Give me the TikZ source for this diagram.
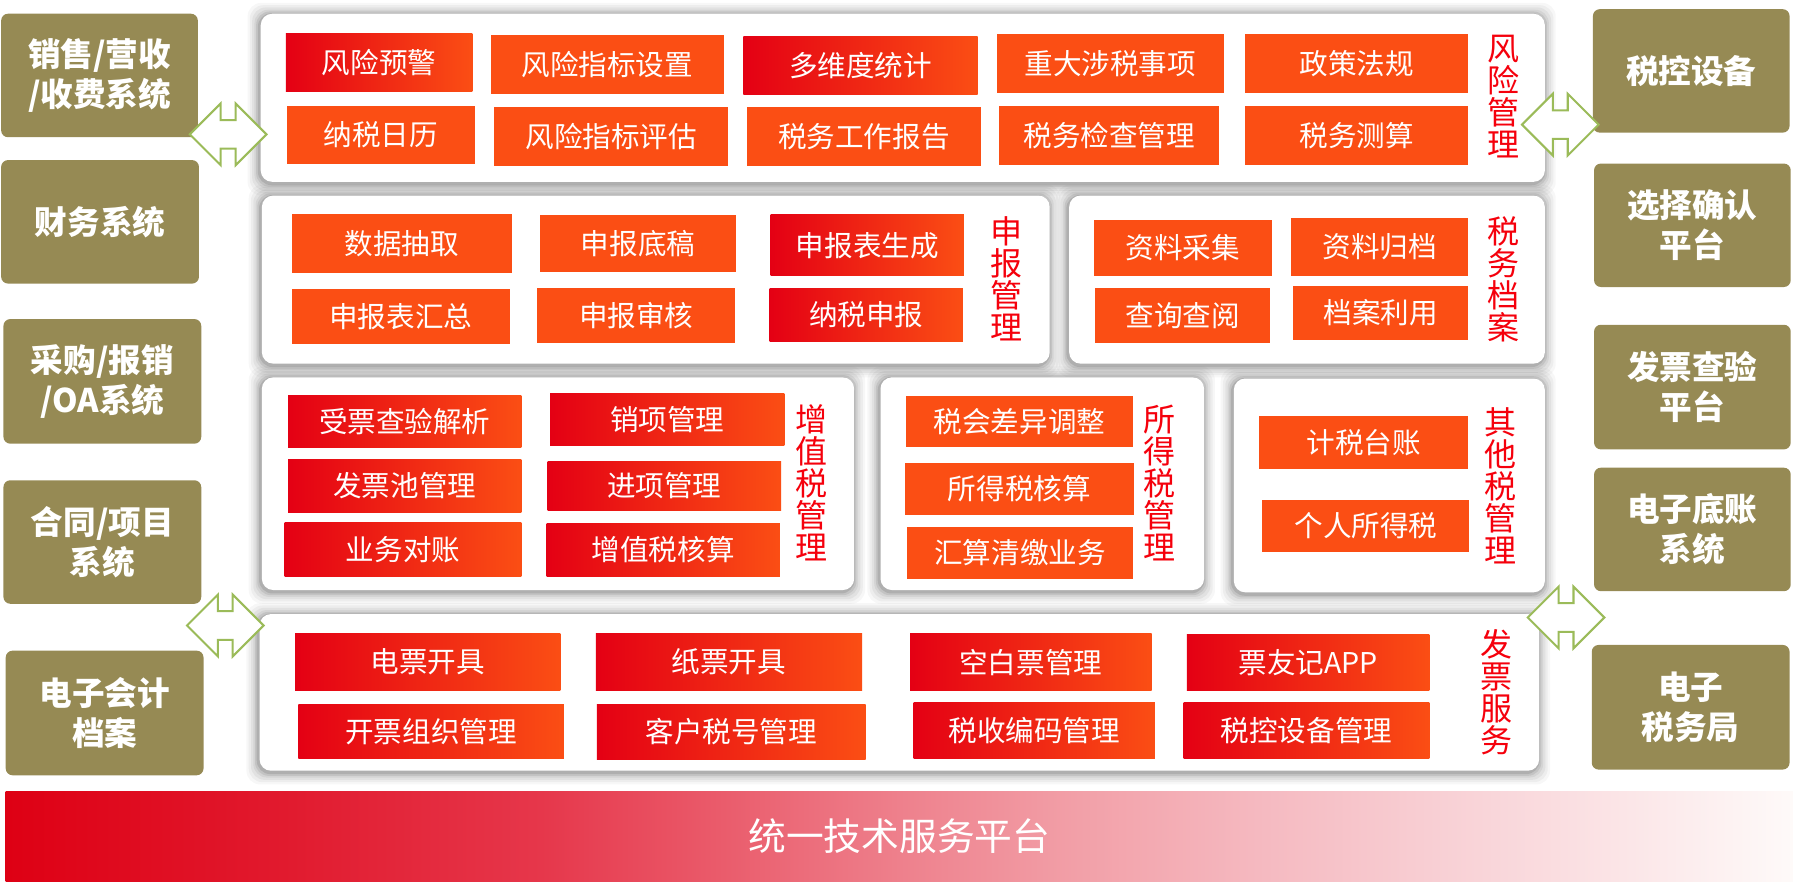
\documentclass[tikz,border=0pt]{standalone}
\usepackage{fontspec}
\setmainfont{Noto Sans CJK SC}
\definecolor{olivebg}{RGB}{150,138,84}
\definecolor{org}{RGB}{251,78,20}
\definecolor{gred}{RGB}{228,0,20}
\definecolor{lblred}{RGB}{245,0,12}
\definecolor{arrgreen}{RGB}{155,187,89}
\pgfdeclarehorizontalshading{barshade}{100bp}{rgb(0bp)=(0.871,0,0.078); rgb(25bp)=(0.871,0,0.078); rgb(32.5bp)=(0.882,0.098,0.176); rgb(40bp)=(0.902,0.216,0.294); rgb(50bp)=(0.933,0.502,0.549); rgb(55bp)=(0.949,0.627,0.659); rgb(60bp)=(0.961,0.725,0.753); rgb(65bp)=(0.973,0.812,0.831); rgb(70bp)=(0.984,0.894,0.902); rgb(75bp)=(0.996,0.98,0.976); rgb(100bp)=(0.996,0.98,0.976)}
\newcommand{\fitem}{\fontsize{25}{28}\selectfont}
\newcommand{\folive}{\bfseries\fontsize{28.5}{35}\selectfont}
\newcommand{\flbl}{\fontsize{28}{28}\selectfont}
\newcommand{\fbar}{\fontsize{33}{36}\selectfont}
\tikzset{
  solidbox/.style={fill=org, text=white, inner sep=0pt, outer sep=0pt, font=\fitem},
  gradbox/.style={left color=gred, right color=org, text=white, inner sep=0pt, outer sep=0pt, font=\fitem},
  olivebox/.style={fill=olivebg, rounded corners=6pt, text=white, align=center, font=\folive, inner sep=0pt, outer sep=0pt},
  panelbox/.style={fill=white, rounded corners=10pt, inner sep=0pt, outer sep=0pt},
  lbl/.style={text=lblred, align=center, font=\flbl, inner sep=0pt},
  dblarrow/.style={draw=arrgreen, fill=white, line width=1.8pt, line join=miter},
  dbl/.pic={\draw[dblarrow] (-33.5,0) -- (-6.5,-27) -- (-6.5,-12.5) -- (6.5,-12.5) -- (6.5,-27) -- (33.5,0) -- (6.5,27) -- (6.5,12.5) -- (-6.5,12.5) -- (-6.5,27) -- cycle;}
}
\newcommand{\mybox}[7]{\node[#6, minimum width={(#4)-(#2)}, minimum height={(#5)-(#3)}] (#1) at ({((#2)+(#4))/2},{((#3)+(#5))/2}) {#7};}
\begin{document}
\begin{tikzpicture}[x=1pt,y=-1pt]
\useasboundingbox (0,0) rectangle (1568,771.33);
% panel shadows
\foreach \xa/\ya/\xb/\yb in {228/12/1351/159, 229/171/918/318, 935/171/1351/318, 229/330/747/516, 770/330/1053/516, 1079/331/1351/518, 227/537/1346/674}{
  \foreach \e/\o in {10/0.03,8/0.04,6/0.05,4/0.06,2.5/0.08,1/0.1}{
    \fill[black,opacity=\o,rounded corners=12pt] ({\xa-\e-1.5},{\ya-\e+0.5}) rectangle ({\xb+\e-0.5},{\yb+\e+2});
  }
}
% panels
\mybox{p1}{228}{12}{1351}{159}{panelbox}{}
\mybox{p2}{229}{171}{918}{318}{panelbox}{}
\mybox{p3}{935}{171}{1351}{318}{panelbox}{}
\mybox{p4}{229}{330}{747}{516}{panelbox}{}
\mybox{p5}{770}{330}{1053}{516}{panelbox}{}
\mybox{p6}{1079}{331}{1351}{518}{panelbox}{}
\mybox{p7}{227}{537}{1346}{674}{panelbox}{}
% risk management
\mybox{a11}{250}{29}{413}{80}{gradbox}{风险预警}
\mybox{a12}{429}{31}{633}{82}{solidbox}{风险指标设置}
\mybox{a13}{650}{32}{855}{83}{gradbox}{多维度统计}
\mybox{a14}{872}{30}{1070}{81}{solidbox}{重大涉税事项}
\mybox{a15}{1089}{30}{1284}{81}{solidbox}{政策法规}
\mybox{a21}{251}{93}{415}{143}{solidbox}{纳税日历}
\mybox{a22}{432}{94}{637}{145}{solidbox}{风险指标评估}
\mybox{a23}{653}{94}{858}{145}{solidbox}{税务工作报告}
\mybox{a24}{874}{93}{1066}{144}{solidbox}{税务检查管理}
\mybox{a25}{1089}{93}{1284}{144}{solidbox}{税务测算}
\node[lbl] (l1) at (1315,84.5) {风\\险\\管\\理};
% declaration
\mybox{b11}{255}{187}{448}{239}{solidbox}{数据抽取}
\mybox{b12}{472}{188}{644}{238}{solidbox}{申报底稿}
\mybox{b13}{674}{188}{843}{241}{gradbox}{申报表生成}
\mybox{b21}{255}{253}{446}{301}{solidbox}{申报表汇总}
\mybox{b22}{470}{252}{643}{300}{solidbox}{申报审核}
\mybox{b23}{673}{252}{842}{299}{gradbox}{纳税申报}
\node[lbl] (l2) at (880,244) {申\\报\\管\\理};
% archive
\mybox{c11}{957}{192}{1112}{241}{solidbox}{资料采集}
\mybox{c12}{1129}{191}{1284}{241}{solidbox}{资料归档}
\mybox{c21}{958}{252}{1111}{300}{solidbox}{查询查阅}
\mybox{c22}{1131}{250}{1284}{297}{solidbox}{档案利用}
\node[lbl] (l3) at (1315,244) {税\\务\\档\\案};
% VAT
\mybox{d11}{252}{346}{456}{391}{gradbox}{受票查验解析}
\mybox{d12}{481}{344}{686}{390}{gradbox}{销项管理}
\mybox{d21}{252}{402}{456}{448}{gradbox}{发票池管理}
\mybox{d22}{479}{404}{683}{446}{gradbox}{进项管理}
\mybox{d31}{249}{457}{456}{504}{gradbox}{业务对账}
\mybox{d32}{478}{458}{682}{504}{gradbox}{增值税核算}
\node[lbl] (l4) at (710,422.5) {增\\值\\税\\管\\理};
% income tax
\mybox{e1}{792}{346}{991}{391}{solidbox}{税会差异调整}
\mybox{e2}{791}{405}{992}{450}{solidbox}{所得税核算}
\mybox{e3}{793}{461}{991}{506}{solidbox}{汇算清缴业务}
\node[lbl] (l5) at (1014,422.5) {所\\得\\税\\管\\理};
% other tax
\mybox{f1}{1101}{364}{1284}{410}{solidbox}{计税台账}
\mybox{f2}{1104}{437}{1285}{483}{solidbox}{个人所得税}
\node[lbl] (l6) at (1312,424.5) {其\\他\\税\\管\\理};
% invoice service
\mybox{g11}{258}{554}{490}{604}{gradbox}{电票开具}
\mybox{g12}{521}{554}{754}{604}{gradbox}{纸票开具}
\mybox{g13}{796}{554}{1007}{604}{gradbox}{空白票管理}
\mybox{g14}{1038}{555}{1250}{604}{gradbox}{票友记APP}
\mybox{g21}{261}{616}{493}{663}{gradbox}{开票组织管理}
\mybox{g22}{522}{616}{757}{664}{gradbox}{客户税号管理}
\mybox{g23}{799}{614}{1010}{663}{gradbox}{税收编码管理}
\mybox{g24}{1035}{614}{1250}{663}{gradbox}{税控设备管理}
\node[lbl] (l7) at (1309,605) {发\\票\\服\\务};
% left systems
\mybox{s1}{1}{12}{173}{120}{olivebox}{销售/营收\\/收费系统}
\mybox{s2}{1}{140}{174}{248}{olivebox}{财务系统}
\mybox{s3}{3}{279}{176}{388}{olivebox}{采购/报销\\/OA系统}
\mybox{s4}{3}{420}{176}{528}{olivebox}{合同/项目\\系统}
\mybox{s5}{5}{569}{178}{678}{olivebox}{电子会计\\档案}
% right systems
\mybox{t1}{1393}{8}{1565}{116}{olivebox}{税控设备}
\mybox{t2}{1394}{143}{1566}{251}{olivebox}{选择确认\\平台}
\mybox{t3}{1394}{284}{1566}{393}{olivebox}{发票查验\\平台}
\mybox{t4}{1394}{409}{1566}{517}{olivebox}{电子底账\\系统}
\mybox{t5}{1392}{564}{1565}{673}{olivebox}{电子\\税务局}
% bottom bar
\node[shading=barshade, minimum width=1563, minimum height=79, inner sep=0pt, outer sep=0pt, text=white, font=\fbar] (bar) at (786.5,731.5) {统一技术服务平台};
% double arrows
\coordinate (ar1) at (199.5,117.5);
\coordinate (ar2) at (1364.5,109);
\coordinate (ar3) at (197,547);
\coordinate (ar4) at (1369.5,540);
\pic at (ar1) {dbl};
\pic at (ar2) {dbl};
\pic at (ar3) {dbl};
\pic at (ar4) {dbl};
\end{tikzpicture}
\end{document}
